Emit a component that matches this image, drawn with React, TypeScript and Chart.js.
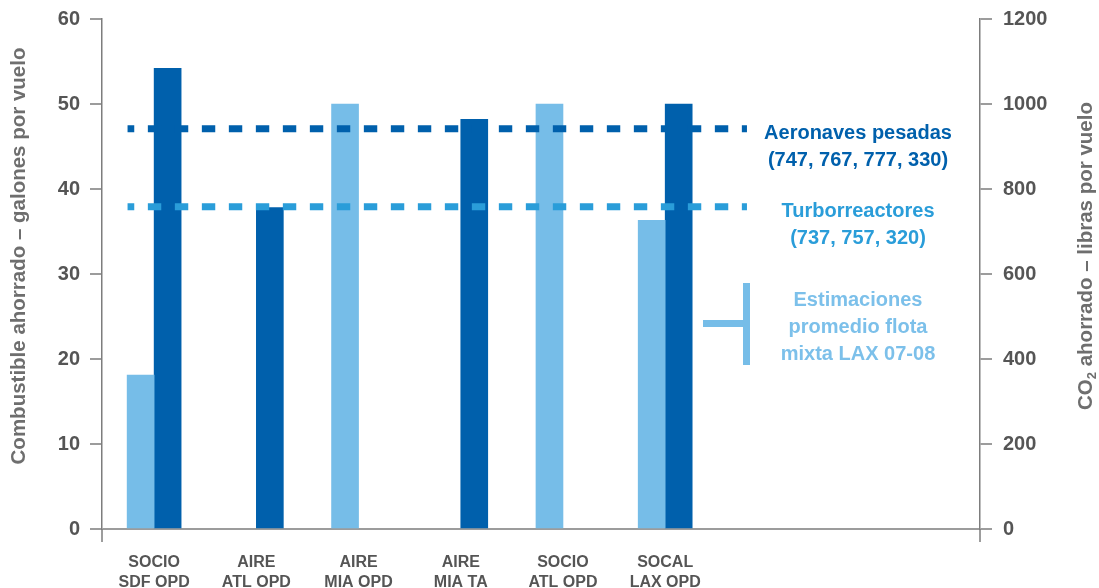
import { useEffect, useRef } from "react";
import { Chart, registerables } from "chart.js";

Chart.register(...registerables);

// Airport / operation categories (two-line tick labels)
const categories: string[][] = [
  ["SOCIO", "SDF OPD"],
  ["AIRE", "ATL OPD"],
  ["AIRE", "MIA OPD"],
  ["AIRE", "MIA TA"],
  ["SOCIO", "ATL OPD"],
  ["SOCAL", "LAX OPD"],
];

// Fuel saved per flight (gallons) – mixed fleet estimates (light bars)
const fleetEstimates: (number | null)[] = [18.1, null, 50, null, 50, 36.3];
// Fuel saved per flight (gallons) – heavy aircraft (dark bars)
const heavyAircraft: (number | null)[] = [54.2, 37.8, null, 48.2, null, 50];

// Average savings reference lines (gallons)
const heavyAverage = 47.1;
const narrowAverage = 37.9;

// Left (gallons) and right (lb CO2) axis ranges
const fuelRange = { min: 0, max: 60, step: 10 };
const co2Range = { min: 0, max: 1200, step: 200 };

const FONT = "'Liberation Sans', Arial, Helvetica, sans-serif";
const DARK = "#0060ac";
const LIGHT = "#76bde8";
const MID = "#2a9dd9";
const LEGEND_LIGHT = "#7cc0ea";
const AXIS_GRAY = "#7d7d7d";
const TICK_GRAY = "#9c9c9c";
const LABEL_GRAY = "#555555";
const TITLE_GRAY = "#6e6e6e";

// x extent of the dashed reference lines (in category units)
const refLineFrom = -0.26;
const refLineTo = 5.8;

const overlayPlugin = {
  id: "overlay",
  afterDatasetsDraw(chart: any) {
    const { ctx, scales } = chart;
    const xs = scales.x;
    const ys = scales.y;
    const lines = [
      { value: heavyAverage, color: DARK, text: ["Aeronaves pesadas", "(747, 767, 777, 330)"] },
      { value: narrowAverage, color: MID, text: ["Turborreactores", "(737, 757, 320)"] },
    ];
    ctx.save();
    lines.forEach((l) => {
      const py = ys.getPixelForValue(l.value);
      ctx.strokeStyle = l.color;
      ctx.lineWidth = 7;
      ctx.lineCap = "butt";
      ctx.setLineDash([13.4, 13.6]);
      ctx.lineDashOffset = 6.7;
      ctx.beginPath();
      ctx.moveTo(xs.getPixelForValue(refLineFrom), py);
      ctx.lineTo(xs.getPixelForValue(refLineTo), py);
      ctx.stroke();

      ctx.setLineDash([]);
      ctx.fillStyle = l.color;
      ctx.font = `bold 20px ${FONT}`;
      ctx.textAlign = "center";
      ctx.textBaseline = "alphabetic";
      l.text.forEach((t, i) => ctx.fillText(t, 858, py + 10.5 + i * 27));
    });

    // bracket marker for the mixed-fleet estimates
    ctx.fillStyle = LIGHT;
    ctx.fillRect(743, 283, 7, 82);
    ctx.fillRect(703, 320, 40, 7);
    ctx.fillStyle = LEGEND_LIGHT;
    ctx.font = `bold 20px ${FONT}`;
    ctx.textAlign = "center";
    ["Estimaciones", "promedio flota", "mixta LAX 07-08"].forEach((t, i) =>
      ctx.fillText(t, 858, 306 + i * 27)
    );
    ctx.restore();
  },
  afterDraw(chart: any) {
    const { ctx, chartArea } = chart;
    ctx.save();
    // axis lines continue below the baseline
    ctx.strokeStyle = AXIS_GRAY;
    ctx.lineWidth = 1.5;
    [chartArea.left, chartArea.right].forEach((x: number) => {
      ctx.beginPath();
      ctx.moveTo(x, chartArea.bottom);
      ctx.lineTo(x, chartArea.bottom + 13);
      ctx.stroke();
    });

    // axis titles
    const cy = 256;
    ctx.fillStyle = TITLE_GRAY;
    ctx.textBaseline = "middle";
    ctx.textAlign = "left";
    const big = `bold 20.5px ${FONT}`;
    const small = `bold 13px ${FONT}`;

    const leftTitle = "Combustible ahorrado – galones por vuelo";
    ctx.font = big;
    const lw = ctx.measureText(leftTitle).width;
    ctx.save();
    ctx.translate(19, cy);
    ctx.rotate(-Math.PI / 2);
    ctx.fillText(leftTitle, -lw / 2, 0);
    ctx.restore();

    const parts = [
      { t: "CO", f: big, dy: 0 },
      { t: "2", f: small, dy: 6 },
      { t: " ahorrado – libras por vuelo", f: big, dy: 0 },
    ];
    let total = 0;
    const widths = parts.map((p) => {
      ctx.font = p.f;
      const w = ctx.measureText(p.t).width;
      total += w;
      return w;
    });
    ctx.save();
    ctx.translate(1086, cy);
    ctx.rotate(-Math.PI / 2);
    let px = -total / 2;
    parts.forEach((p, i) => {
      ctx.font = p.f;
      ctx.fillText(p.t, px, p.dy);
      px += widths[i];
    });
    ctx.restore();
    ctx.restore();
  },
};

export default function App() {
  const canvasRef = useRef<HTMLCanvasElement | null>(null);

  useEffect(() => {
    if (!canvasRef.current) return;
    Chart.defaults.font.family = FONT;

    const toPoints = (arr: (number | null)[]) => arr.map((v, i) => ({ x: i, y: v }));

    const chart = new Chart(canvasRef.current, {
      type: "bar",
      data: {
        datasets: [
          {
            label: "Estimaciones promedio flota mixta LAX 07-08",
            data: toPoints(fleetEstimates) as any,
            backgroundColor: LIGHT,
            barThickness: 27,
            yAxisID: "y",
          },
          {
            label: "Aeronaves pesadas",
            data: toPoints(heavyAircraft) as any,
            backgroundColor: DARK,
            barThickness: 27,
            yAxisID: "y",
          },
        ],
      },
      options: {
        responsive: false,
        animation: false,
        devicePixelRatio: 1,
        layout: { padding: { top: 19, left: 0, right: 0, bottom: 0 } },
        plugins: {
          legend: { display: false },
          tooltip: { enabled: false },
        },
        scales: {
          x: {
            type: "linear",
            offset: false,
            min: -0.51,
            max: 8.08,
            afterBuildTicks: (s: any) => {
              s.ticks = categories.map((_, i) => ({ value: i }));
            },
            afterFit: (s: any) => {
              s.height = 59;
            },
            grid: { display: false, drawTicks: false, offset: false },
            border: { display: false },
            ticks: {
              autoSkip: false,
              maxRotation: 0,
              minRotation: 0,
              padding: 24,
              color: LABEL_GRAY,
              font: { size: 16, weight: "bold", lineHeight: 1.22 },
              callback: (v: any) => categories[v] ?? "",
            },
          },
          y: {
            position: "left",
            min: fuelRange.min,
            max: fuelRange.max,
            afterFit: (s: any) => {
              s.width = 102;
            },
            ticks: {
              stepSize: fuelRange.step,
              padding: 10,
              color: LABEL_GRAY,
              font: { size: 20, weight: "bold", lineHeight: 0.7 },
            },
            grid: {
              color: (c: any) => (c.tick && c.tick.value === 0 ? TICK_GRAY : "rgba(0,0,0,0)"),
              tickColor: TICK_GRAY,
              lineWidth: 2,
              tickLength: 12,
            },
            border: { display: true, color: AXIS_GRAY, width: 1.5 },
          },
          y1: {
            position: "right",
            min: co2Range.min,
            max: co2Range.max,
            afterFit: (s: any) => {
              s.width = 119;
            },
            ticks: {
              stepSize: co2Range.step,
              padding: 11,
              color: LABEL_GRAY,
              font: { size: 20, weight: "bold", lineHeight: 0.7 },
              callback: (v: any) => String(v),
            },
            grid: {
              drawOnChartArea: false,
              color: TICK_GRAY,
              tickColor: TICK_GRAY,
              lineWidth: 2,
              tickLength: 12,
            },
            border: { display: true, color: AXIS_GRAY, width: 1.5 },
          },
        },
      } as any,
      plugins: [overlayPlugin],
    });

    return () => chart.destroy();
  }, []);

  return (
    <div style={{ position: "fixed", left: 0, top: 0, width: 1099, height: 588, background: "#ffffff" }}>
      <canvas ref={canvasRef} width={1099} height={588} style={{ display: "block" }} />
    </div>
  );
}
